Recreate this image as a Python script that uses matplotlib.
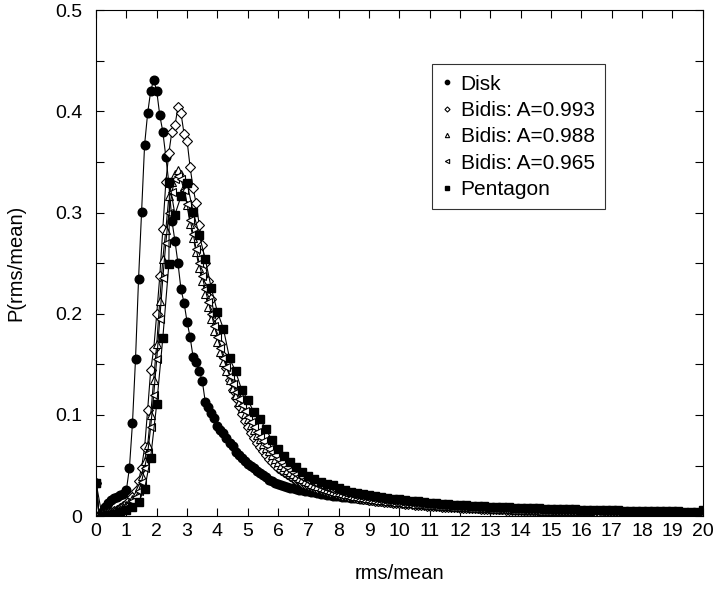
import numpy as np
import matplotlib
matplotlib.use("Agg")
import matplotlib.pyplot as plt
from matplotlib.ticker import MultipleLocator

plt.rcParams['font.family'] = ['Liberation Sans', 'DejaVu Sans']

# rms/mean bins (0.1 wide) for disk and bidis, 0.2 wide for pentagon
x_fine = np.round(np.arange(0, 20.001, 0.1), 1)

disk = [
    0.033, 0.000, 0.004, 0.009, 0.013, 0.016, 0.018, 0.019, 0.021, 0.022,
    0.026, 0.048, 0.092, 0.155, 0.234, 0.301, 0.367, 0.398, 0.420, 0.431,
    0.420, 0.396, 0.380, 0.355, 0.329, 0.292, 0.272, 0.250, 0.224, 0.211,
    0.192, 0.177, 0.157, 0.152, 0.143, 0.134, 0.113, 0.108, 0.102, 0.097,
    0.089, 0.085, 0.082, 0.077, 0.072, 0.069, 0.063, 0.060, 0.058, 0.055,
    0.052, 0.050, 0.048, 0.045, 0.043, 0.041, 0.039, 0.036, 0.035, 0.033,
    0.032, 0.031, 0.030, 0.029, 0.028, 0.028, 0.027, 0.026, 0.026, 0.025,
    0.025, 0.024, 0.024, 0.023, 0.022, 0.022, 0.021, 0.021, 0.020, 0.020,
    0.020, 0.019, 0.019, 0.019, 0.018, 0.018, 0.018, 0.017, 0.017, 0.017,
    0.016, 0.016, 0.016, 0.015, 0.015, 0.015, 0.015, 0.014, 0.014, 0.014,
    0.014, 0.013, 0.013, 0.013, 0.013, 0.012, 0.012, 0.012, 0.012, 0.011,
    0.011, 0.011, 0.011, 0.011, 0.010, 0.010, 0.010, 0.010, 0.010, 0.010,
    0.009, 0.009, 0.009, 0.009, 0.009, 0.009, 0.008, 0.008, 0.008, 0.008,
    0.008, 0.008, 0.008, 0.007, 0.007, 0.007, 0.007, 0.007, 0.007, 0.007,
    0.007, 0.006, 0.006, 0.006, 0.006, 0.006, 0.006, 0.006, 0.006, 0.006,
    0.006, 0.005, 0.005, 0.005, 0.005, 0.005, 0.005, 0.005, 0.005, 0.005,
    0.005, 0.005, 0.005, 0.005, 0.005, 0.004, 0.004, 0.004, 0.004, 0.004,
    0.004, 0.004, 0.004, 0.004, 0.004, 0.004, 0.004, 0.004, 0.004, 0.004,
    0.004, 0.004, 0.004, 0.004, 0.004, 0.004, 0.003, 0.003, 0.003, 0.003,
    0.003, 0.003, 0.003, 0.003, 0.003, 0.003, 0.003, 0.003, 0.003, 0.003,
    0.003,
]

bidis_993 = [
    0.033, 0.000, 0.001, 0.002, 0.003, 0.004, 0.005, 0.006, 0.008, 0.010,
    0.012, 0.015, 0.019, 0.025, 0.035, 0.048, 0.068, 0.105, 0.144, 0.165,
    0.200, 0.237, 0.284, 0.330, 0.359, 0.380, 0.386, 0.404, 0.398, 0.378,
    0.371, 0.345, 0.324, 0.309, 0.288, 0.268, 0.250, 0.232, 0.215, 0.198,
    0.183, 0.170, 0.158, 0.146, 0.135, 0.125, 0.117, 0.109, 0.101, 0.094,
    0.088, 0.082, 0.077, 0.072, 0.068, 0.064, 0.060, 0.057, 0.054, 0.051,
    0.048, 0.046, 0.044, 0.042, 0.040, 0.038, 0.036, 0.035, 0.033, 0.032,
    0.031, 0.030, 0.029, 0.028, 0.027, 0.026, 0.025, 0.024, 0.024, 0.023,
    0.022, 0.021, 0.021, 0.020, 0.020, 0.019, 0.018, 0.018, 0.017, 0.017,
    0.016, 0.016, 0.015, 0.015, 0.015, 0.014, 0.014, 0.014, 0.013, 0.013,
    0.013, 0.013, 0.012, 0.012, 0.012, 0.011, 0.011, 0.011, 0.011, 0.010,
    0.010, 0.010, 0.010, 0.010, 0.009, 0.009, 0.009, 0.009, 0.009, 0.009,
    0.008, 0.008, 0.008, 0.008, 0.008, 0.008, 0.008, 0.007, 0.007, 0.007,
    0.007, 0.007, 0.007, 0.007, 0.007, 0.006, 0.006, 0.006, 0.006, 0.006,
    0.006, 0.006, 0.006, 0.006, 0.006, 0.005, 0.005, 0.005, 0.005, 0.005,
    0.005, 0.005, 0.005, 0.005, 0.005, 0.005, 0.005, 0.005, 0.005, 0.005,
    0.005, 0.005, 0.004, 0.004, 0.004, 0.004, 0.004, 0.004, 0.004, 0.004,
    0.004, 0.004, 0.004, 0.004, 0.004, 0.004, 0.004, 0.004, 0.004, 0.004,
    0.004, 0.004, 0.004, 0.003, 0.003, 0.003, 0.003, 0.003, 0.003, 0.003,
    0.003, 0.003, 0.003, 0.003, 0.003, 0.003, 0.003, 0.003, 0.003, 0.003,
    0.003,
]

bidis_988 = [
    0.033, 0.000, 0.001, 0.002, 0.003, 0.004, 0.005, 0.006, 0.007, 0.009,
    0.011, 0.014, 0.017, 0.022, 0.029, 0.040, 0.055, 0.070, 0.100, 0.135,
    0.170, 0.213, 0.254, 0.283, 0.316, 0.330, 0.338, 0.342, 0.338, 0.325,
    0.307, 0.289, 0.275, 0.261, 0.245, 0.232, 0.220, 0.207, 0.195, 0.183,
    0.172, 0.162, 0.152, 0.143, 0.135, 0.127, 0.120, 0.113, 0.107, 0.101,
    0.096, 0.090, 0.085, 0.080, 0.076, 0.071, 0.067, 0.064, 0.060, 0.057,
    0.054, 0.051, 0.049, 0.046, 0.044, 0.042, 0.040, 0.038, 0.037, 0.035,
    0.034, 0.032, 0.031, 0.030, 0.029, 0.028, 0.027, 0.026, 0.025, 0.024,
    0.024, 0.023, 0.022, 0.022, 0.021, 0.020, 0.020, 0.019, 0.019, 0.018,
    0.018, 0.017, 0.017, 0.016, 0.016, 0.016, 0.015, 0.015, 0.015, 0.014,
    0.014, 0.014, 0.013, 0.013, 0.013, 0.012, 0.012, 0.012, 0.012, 0.011,
    0.011, 0.011, 0.011, 0.010, 0.010, 0.010, 0.010, 0.010, 0.009, 0.009,
    0.009, 0.009, 0.009, 0.009, 0.008, 0.008, 0.008, 0.008, 0.008, 0.008,
    0.008, 0.007, 0.007, 0.007, 0.007, 0.007, 0.007, 0.007, 0.006, 0.006,
    0.006, 0.006, 0.006, 0.006, 0.006, 0.006, 0.006, 0.005, 0.005, 0.005,
    0.005, 0.005, 0.005, 0.005, 0.005, 0.005, 0.005, 0.005, 0.005, 0.005,
    0.005, 0.005, 0.005, 0.005, 0.005, 0.004, 0.004, 0.004, 0.004, 0.004,
    0.004, 0.004, 0.004, 0.004, 0.004, 0.004, 0.004, 0.004, 0.004, 0.004,
    0.004, 0.004, 0.004, 0.004, 0.004, 0.004, 0.003, 0.003, 0.003, 0.003,
    0.003, 0.003, 0.003, 0.003, 0.003, 0.003, 0.003, 0.003, 0.003, 0.003,
    0.003,
]

bidis_965 = [
    0.033, 0.000, 0.001, 0.001, 0.002, 0.003, 0.004, 0.005, 0.006, 0.008,
    0.010, 0.012, 0.015, 0.019, 0.025, 0.034, 0.048, 0.062, 0.088, 0.120,
    0.155, 0.195, 0.235, 0.270, 0.300, 0.320, 0.333, 0.336, 0.333, 0.322,
    0.308, 0.293, 0.279, 0.264, 0.250, 0.237, 0.224, 0.212, 0.200, 0.188,
    0.177, 0.166, 0.156, 0.147, 0.139, 0.131, 0.123, 0.116, 0.110, 0.104,
    0.098, 0.093, 0.088, 0.083, 0.078, 0.074, 0.070, 0.066, 0.063, 0.060,
    0.057, 0.054, 0.051, 0.049, 0.046, 0.044, 0.042, 0.040, 0.039, 0.037,
    0.036, 0.034, 0.033, 0.032, 0.030, 0.029, 0.028, 0.027, 0.026, 0.026,
    0.025, 0.024, 0.023, 0.023, 0.022, 0.021, 0.021, 0.020, 0.020, 0.019,
    0.019, 0.018, 0.018, 0.017, 0.017, 0.016, 0.016, 0.016, 0.015, 0.015,
    0.015, 0.014, 0.014, 0.014, 0.013, 0.013, 0.013, 0.012, 0.012, 0.012,
    0.012, 0.011, 0.011, 0.011, 0.011, 0.010, 0.010, 0.010, 0.010, 0.010,
    0.009, 0.009, 0.009, 0.009, 0.009, 0.009, 0.008, 0.008, 0.008, 0.008,
    0.008, 0.008, 0.008, 0.007, 0.007, 0.007, 0.007, 0.007, 0.007, 0.007,
    0.007, 0.006, 0.006, 0.006, 0.006, 0.006, 0.006, 0.006, 0.006, 0.006,
    0.005, 0.005, 0.005, 0.005, 0.005, 0.005, 0.005, 0.005, 0.005, 0.005,
    0.005, 0.005, 0.005, 0.005, 0.005, 0.005, 0.005, 0.004, 0.004, 0.004,
    0.004, 0.004, 0.004, 0.004, 0.004, 0.004, 0.004, 0.004, 0.004, 0.004,
    0.004, 0.004, 0.004, 0.004, 0.004, 0.004, 0.004, 0.004, 0.004, 0.004,
    0.004, 0.004, 0.003, 0.003, 0.003, 0.003, 0.003, 0.003, 0.003, 0.003,
    0.003,
]

pent_x = np.insert(np.round(np.arange(0, 20.001, 0.2), 1), 13, 2.42)
pentagon = [
    0.033, 0.000, 0.001, 0.002, 0.004, 0.006, 0.009, 0.014, 0.027, 0.058,
    0.111, 0.176, 0.249, 0.330, 0.298, 0.316, 0.329, 0.301, 0.278, 0.254, 0.225,
    0.202, 0.185, 0.156, 0.143, 0.125, 0.115, 0.103, 0.096, 0.086, 0.075,
    0.066, 0.059, 0.054, 0.049, 0.044, 0.040, 0.037, 0.034, 0.032, 0.031,
    0.028, 0.026, 0.024, 0.023, 0.022, 0.021, 0.020, 0.019, 0.018, 0.017,
    0.017, 0.016, 0.015, 0.015, 0.014, 0.013, 0.013, 0.012, 0.012, 0.011,
    0.011, 0.011, 0.010, 0.010, 0.010, 0.009, 0.009, 0.009, 0.009, 0.008,
    0.008, 0.008, 0.008, 0.008, 0.007, 0.007, 0.007, 0.007, 0.007, 0.007,
    0.006, 0.006, 0.006, 0.006, 0.006, 0.006, 0.006, 0.005, 0.005, 0.005,
    0.005, 0.005, 0.005, 0.005, 0.005, 0.005, 0.005, 0.004, 0.004, 0.004,
    0.006,
]

y_ticks = [0, 0.1, 0.2, 0.3, 0.4, 0.5]
y_tick_labels = ['0', '0.1', '0.2', '0.3', '0.4', '0.5']

fig = plt.figure(figsize=(7.17, 5.92), dpi=100)
ax = fig.add_axes([0.134, 0.128, 0.846, 0.855])

lw = 0.8
ax.plot(x_fine, disk, '-o', color='black', lw=lw, ms=6.2,
        mfc='black', mec='black', label='Disk')
ax.plot(x_fine, bidis_993, '-D', color='black', lw=lw, ms=5.2,
        mfc='white', mec='black', mew=0.8, label='Bidis: A=0.993')
ax.plot(x_fine, bidis_988, '-^', color='black', lw=lw, ms=6.2,
        mfc='white', mec='black', mew=0.8, label='Bidis: A=0.988')
ax.plot(x_fine, bidis_965, '-<', color='black', lw=lw, ms=6.2,
        mfc='white', mec='black', mew=0.8, label='Bidis: A=0.965')
ax.plot(pent_x, pentagon, '-s', color='black', lw=lw, ms=6.3,
        mfc='black', mec='black', label='Pentagon')

ax.set_xlim(0, 20)
ax.set_ylim(0, 0.5)
ax.xaxis.set_major_locator(MultipleLocator(1))
ax.set_yticks(y_ticks)
ax.set_yticklabels(y_tick_labels)
ax.yaxis.set_minor_locator(MultipleLocator(0.05))
ax.tick_params(which='both', direction='in', top=True, right=True,
               length=6, width=0.8, labelsize=14)
ax.tick_params(axis='x', pad=5)
ax.tick_params(axis='y', pad=10)
for s in ax.spines.values():
    s.set_linewidth(0.8)

ax.set_xlabel('rms/mean', fontsize=14.5, labelpad=17)
ax.set_ylabel('P(rms/mean)', fontsize=14.5, labelpad=21)

leg = ax.legend(loc='upper left', bbox_to_anchor=(0.553, 0.893), fontsize=15,
                frameon=True, fancybox=False, edgecolor='black',
                handlelength=0.5, handletextpad=0.4, markerscale=0.5,
                labelspacing=0.35, borderpad=0.5, borderaxespad=0)
for line in leg.get_lines():
    line.set_linestyle('none')
leg.get_frame().set_linewidth(0.8)

fig.savefig('out.png', dpi=100)
